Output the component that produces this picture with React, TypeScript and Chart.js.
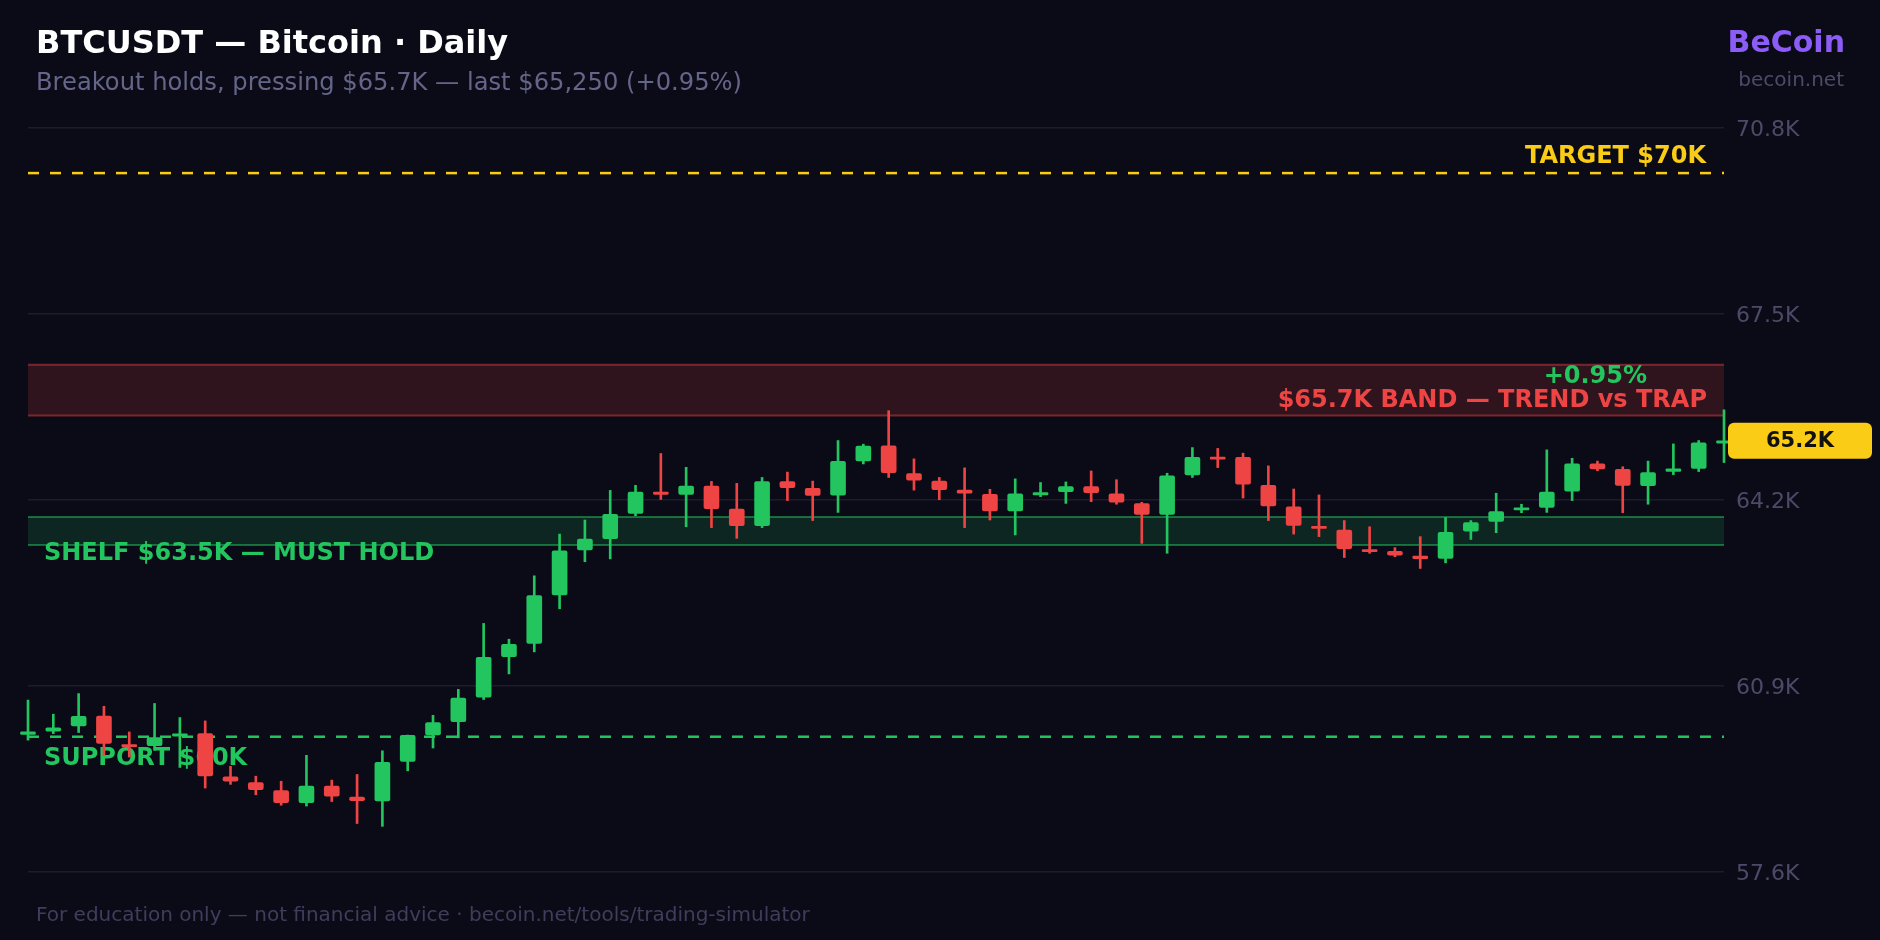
import { useEffect, useRef } from "react";
import { Chart, registerables } from "chart.js";

Chart.register(...registerables);

// ---- Data (daily BTCUSDT candles) ----
const days = Array.from({ length: 68 }, (_, i) => i);
const opens = [
  60040, 60100, 60190, 60365, 59860, 59840, 60010, 60055, 59290, 59185,
  59045, 58830, 59125, 58930, 58860, 59560, 60030, 60265, 60700, 61420,
  61655, 62515, 63315, 63515, 63960, 64340, 64300, 64445, 64040, 63745,
  64525, 64405, 64285, 64895, 65160, 64670, 64535, 64375, 64300, 64005,
  64290, 64350, 64440, 64310, 64135, 63945, 64645, 64960, 64955, 64460,
  64080, 63735, 63665, 63320, 63290, 63205, 63165, 63645, 63820, 64025,
  64070, 64355, 64840, 64745, 64455, 64705, 64760, 65210,
];
const highs = [
  60650, 60400, 60765, 60540, 60085, 60590, 60340, 60280, 59475, 59300,
  59210, 59670, 59230, 59330, 59750, 60030, 60380, 60840, 62010, 61730,
  62855, 63595, 63845, 64370, 64460, 65025, 64780, 64530, 64495, 64600,
  64695, 64535, 65255, 65190, 65785, 64930, 64600, 64770, 64390, 64575,
  64510, 64520, 64715, 64560, 64160, 64675, 65130, 65115, 65030, 64805,
  64395, 64290, 63835, 63725, 63355, 63550, 63890, 63835, 64320, 64125,
  65090, 64940, 64890, 64790, 64890, 65195, 65255, 65800,
];
const lows = [
  59940, 60055, 60075, 59670, 59640, 59760, 59455, 59090, 59155, 58970,
  58785, 58770, 58850, 58460, 58410, 59395, 59800, 59980, 60660, 61115,
  61505, 62270, 63105, 63155, 63920, 64210, 63725, 63710, 63520, 63710,
  64190, 63835, 63980, 64840, 64600, 64375, 64205, 63710, 63845, 63580,
  64260, 64140, 64170, 64125, 63430, 63255, 64600, 64775, 64235, 63835,
  63595, 63550, 63180, 63255, 63195, 62985, 63085, 63500, 63620, 63975,
  63980, 64190, 64720, 63975, 64125, 64650, 64705, 64865,
];
const closes = [
  60085, 60160, 60360, 59880, 59825, 59985, 60050, 59305, 59210, 59060,
  58830, 59125, 58945, 58865, 59545, 60025, 60250, 60685, 61410, 61640,
  62505, 63300, 63505, 63945, 64340, 64300, 64445, 64045, 63745, 64525,
  64420, 64280, 64885, 65155, 64685, 64550, 64385, 64320, 64005, 64310,
  64330, 64440, 64330, 64160, 63945, 64630, 64955, 64925, 64480, 64095,
  63750, 63695, 63335, 63285, 63220, 63160, 63625, 63800, 63995, 64060,
  64340, 64840, 64750, 64460, 64685, 64755, 65215, 65250,
];
const yTicks = [57600, 60900, 64200, 67500, 70800];
const targetLevel = [70000];
const supportLevel = [60000];
const shelfBand = [63400, 63900];
const trapBand = [65700, 66600];
const lastPrice = [65250];

const GREEN = "#22c55e";
const RED = "#ef4444";
const YELLOW = "#facc15";
const PURPLE = "#8b5cf6";
const BG = "#0b0b17";
const FONT = '"DejaVu Sans", "Noto Sans", sans-serif';

const overlay = {
  id: "overlay",
  beforeDatasetsDraw(chart: any) {
    const { ctx, chartArea: a } = chart;
    const y = chart.scales.y;
    const hline = (py: number) => {
      ctx.beginPath();
      ctx.moveTo(a.left, py);
      ctx.lineTo(a.right, py);
      ctx.stroke();
    };
    ctx.save();
    // trap band
    const rt = y.getPixelForValue(trapBand[1]);
    const rb = y.getPixelForValue(trapBand[0]);
    ctx.fillStyle = "rgba(239,68,68,0.16)";
    ctx.fillRect(a.left, rt, a.right - a.left, rb - rt);
    ctx.strokeStyle = "rgba(239,68,68,0.45)";
    ctx.lineWidth = 2;
    hline(rt);
    hline(rb);
    // shelf band
    const gt = y.getPixelForValue(shelfBand[1]);
    const gb = y.getPixelForValue(shelfBand[0]);
    ctx.fillStyle = "rgba(34,197,94,0.15)";
    ctx.fillRect(a.left, gt, a.right - a.left, gb - gt);
    ctx.strokeStyle = "rgba(34,197,94,0.5)";
    hline(gt);
    hline(gb);
    // dashed levels
    ctx.setLineDash([11, 11]);
    ctx.lineWidth = 2.5;
    ctx.strokeStyle = YELLOW;
    const ty = y.getPixelForValue(targetLevel[0]);
    hline(ty);
    ctx.strokeStyle = GREEN;
    const sy = y.getPixelForValue(supportLevel[0]);
    hline(sy);
    ctx.setLineDash([]);
    // labels
    ctx.font = `bold 24px ${FONT}`;
    ctx.textBaseline = "alphabetic";
    ctx.textAlign = "right";
    ctx.fillStyle = YELLOW;
    ctx.fillText("TARGET $70K", a.right - 18, ty - 10);
    ctx.fillStyle = GREEN;
    ctx.fillText("+0.95%", a.right - 77, rt + 18);
    ctx.fillStyle = RED;
    ctx.fillText("$65.7K BAND — TREND vs TRAP", a.right - 17, rb - 8);
    ctx.textAlign = "left";
    ctx.fillStyle = GREEN;
    ctx.fillText("SHELF $63.5K — MUST HOLD", a.left + 16, gb + 15);
    ctx.fillText("SUPPORT $60K", a.left + 16, sy + 28);
    ctx.restore();
  },
  afterDraw(chart: any) {
    const { ctx } = chart;
    const y = chart.scales.y;
    ctx.save();
    ctx.textBaseline = "alphabetic";
    ctx.textAlign = "left";
    ctx.fillStyle = "#ffffff";
    ctx.font = `bold 32px ${FONT}`;
    ctx.fillText("BTCUSDT — Bitcoin · Daily", 36, 53);
    ctx.fillStyle = "#65658a";
    ctx.font = `24.2px ${FONT}`;
    ctx.fillText("Breakout holds, pressing $65.7K — last $65,250 (+0.95%)", 36, 90);
    ctx.fillStyle = "#3e3e5c";
    ctx.font = `20px ${FONT}`;
    ctx.fillText("For education only — not financial advice · becoin.net/tools/trading-simulator", 36, 921);
    ctx.textAlign = "right";
    ctx.fillStyle = PURPLE;
    ctx.font = `bold 30px ${FONT}`;
    ctx.fillText("BeCoin", 1845, 52);
    ctx.fillStyle = "#4b4b69";
    ctx.font = `20px ${FONT}`;
    ctx.fillText("becoin.net", 1844, 86);
    // last price tag
    const py = y.getPixelForValue(lastPrice[0]);
    ctx.fillStyle = YELLOW;
    ctx.beginPath();
    (ctx as any).roundRect(1728, py - 18, 144, 36, 6);
    ctx.fill();
    ctx.fillStyle = "#111111";
    ctx.font = `bold 21px ${FONT}`;
    ctx.textAlign = "center";
    ctx.textBaseline = "middle";
    ctx.fillText((Math.floor(lastPrice[0] / 100) / 10).toFixed(1) + "K", 1800, py + 1);
    ctx.restore();
  },
};

export default function App() {
  const ref = useRef<HTMLCanvasElement | null>(null);
  useEffect(() => {
    if (!ref.current) return;
    const colors = opens.map((o, i) => (closes[i] >= o ? GREEN : RED));
    const chart = new Chart(ref.current, {
      type: "bar",
      data: {
        datasets: [
          {
            label: "body",
            data: days.map((d, i) => ({
              x: d,
              y: [Math.min(opens[i], closes[i]), Math.max(opens[i], closes[i])],
            })) as any,
            backgroundColor: colors,
            barThickness: 15,
            borderRadius: 2,
            borderSkipped: false,
            grouped: false,
            clip: false as any,
            order: 0,
          },
          {
            label: "wick",
            data: days.map((d, i) => ({ x: d, y: [lows[i], highs[i]] })) as any,
            backgroundColor: colors,
            barThickness: 2,
            grouped: false,
            clip: false as any,
            order: 1,
          },
        ],
      },
      options: {
        animation: false,
        responsive: false,
        maintainAspectRatio: false,
        layout: { padding: { left: 28, top: 128, right: 0, bottom: 68 } },
        plugins: {
          legend: { display: false },
          tooltip: { enabled: false },
        },
        scales: {
          x: {
            type: "linear",
            min: 0,
            max: days.length - 1,
            offset: false,
            display: false,
          },
          y: {
            position: "right",
            min: yTicks[0],
            max: yTicks[yTicks.length - 1],
            afterBuildTicks: (s: any) => {
              s.ticks = yTicks.map((v) => ({ value: v }));
            },
            afterFit: (s: any) => {
              s.width = 156;
            },
            grid: { color: "#1c1c2e", drawTicks: false, lineWidth: 1.5 },
            border: { display: false },
            ticks: {
              color: "#4b4b69",
              font: { family: FONT, size: 22 },
              padding: 12,
              labelOffset: 2,
              callback: (v: any) => (Number(v) / 1000).toFixed(1) + "K",
            },
          },
        },
      },
      plugins: [overlay],
    });
    return () => chart.destroy();
  }, []);
  return (
    <div
      style={{
        position: "fixed",
        left: 0,
        top: 0,
        width: 1880,
        height: 940,
        background: BG,
      }}
    >
      <canvas ref={ref} width={1880} height={940} style={{ display: "block" }} />
    </div>
  );
}
